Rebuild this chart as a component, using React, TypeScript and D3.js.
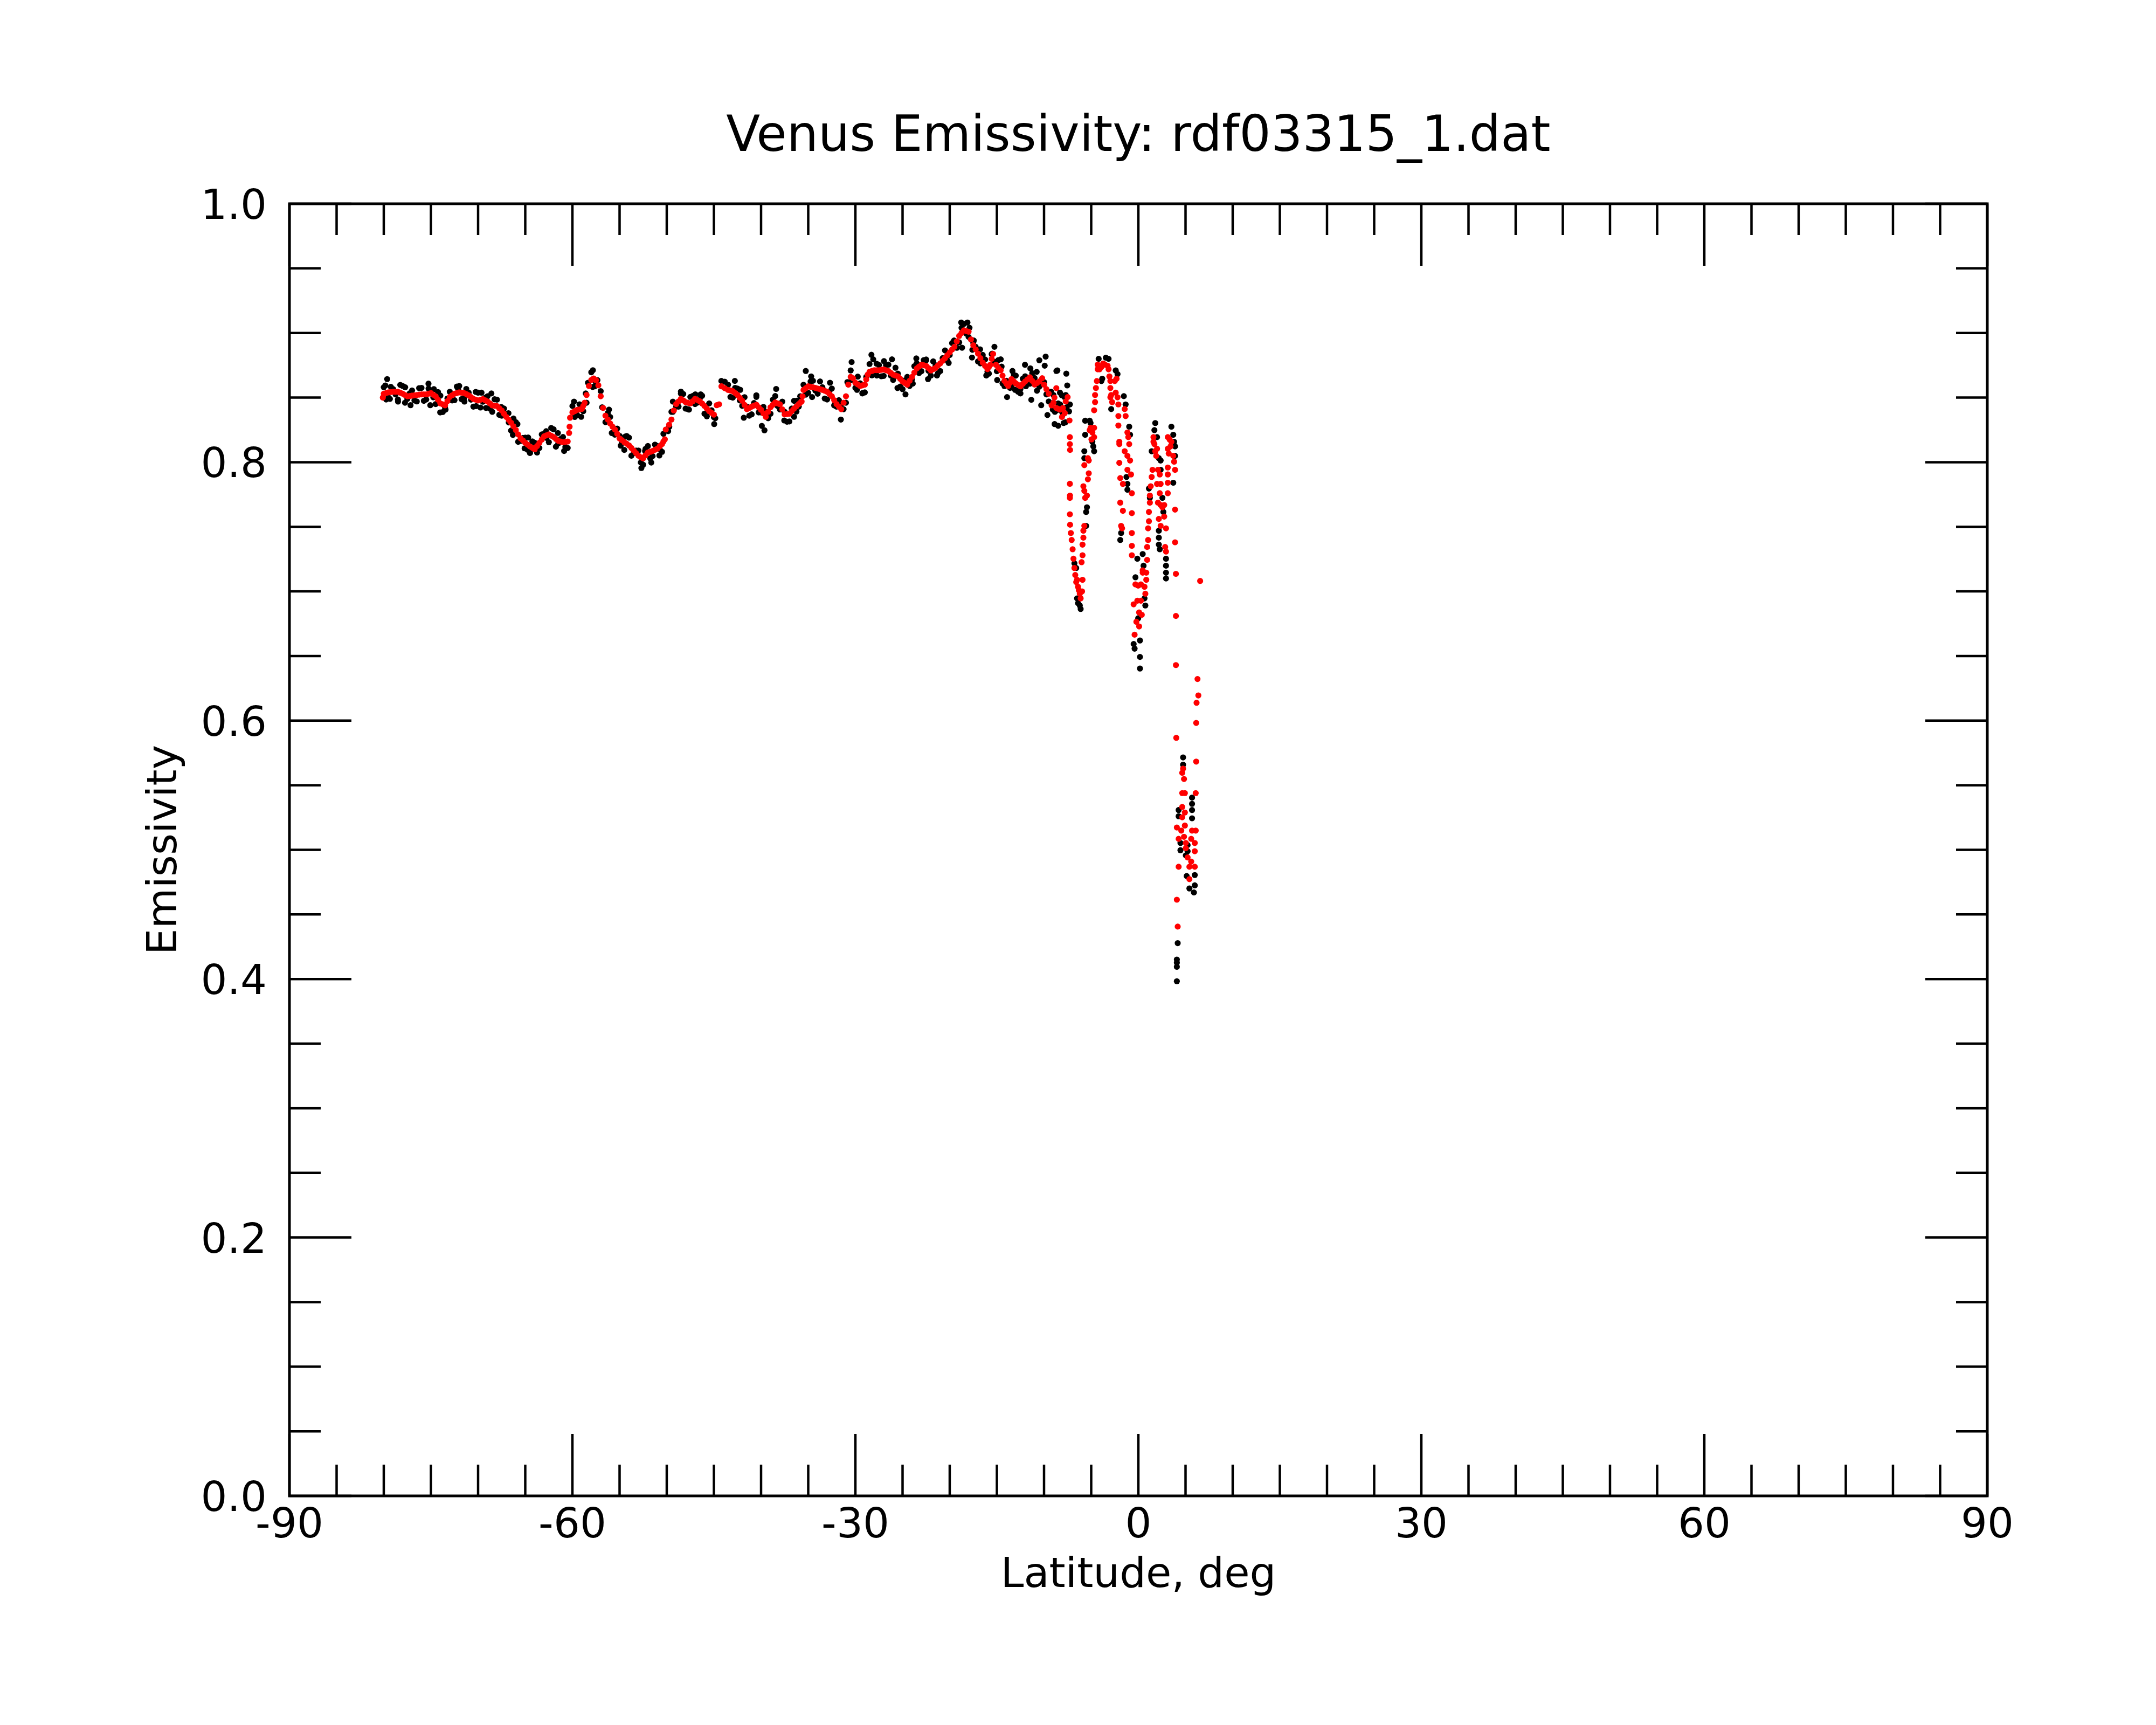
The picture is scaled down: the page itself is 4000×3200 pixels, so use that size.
import React from "react";
import * as d3 from "d3";

const TITLE = "Venus Emissivity: rdf03315_1.dat";
const X_LABEL = "Latitude, deg";
const Y_LABEL = "Emissivity";
const X_MAJOR = [-90, -60, -30, 0, 30, 60, 90];
const X_TICK_LABELS = ["-90", "-60", "-30", "0", "30", "60", "90"];
const Y_MAJOR = [0, 0.2, 0.4, 0.6, 0.8, 1.0];
const Y_TICK_LABELS = ["0.0", "0.2", "0.4", "0.6", "0.8", "1.0"];

// smoothed series (red), latitude vs emissivity
const redTrack: [number, number][] = [
  [-80.1,0.850],[-80.0,0.853],[-79.5,0.854],[-79.0,0.8545],[-78.5,0.8545],[-78.0,0.853],[-77.5,0.851],[-77.0,0.8515],[-76.5,0.852],[-76.0,0.8525],[-75.5,0.8525],[-75.0,0.8535],[-74.5,0.851],[-74.0,0.8455],[-73.5,0.844],[-73.0,0.8505],[-72.5,0.853],[-72.0,0.854],[-71.5,0.8535],[-71.0,0.8518],[-70.5,0.849],[-70.0,0.8478],[-69.5,0.8488],[-69.0,0.847],[-68.5,0.844],[-68.0,0.8434],[-67.5,0.84],[-67.0,0.835],[-66.5,0.8305],[-66.0,0.825],[-65.75,0.8215],[-65.5,0.8185],[-65.0,0.815],[-64.5,0.8121],[-64.0,0.81],[-63.5,0.815],[-63.0,0.82],[-62.5,0.8215],[-62.0,0.8195],[-61.5,0.8165],[-61.0,0.8155],[-60.5,0.816],[-60.35,0.8226],[-60.3,0.8275],[-60.25,0.8344],[-60.0,0.8385],[-59.5,0.8405],[-59.0,0.8412],[-58.7,0.846],[-58.5,0.852],[-58.25,0.859],[-58.0,0.8636],[-57.75,0.8648],[-57.5,0.8635],[-57.25,0.8595],[-57.0,0.851],[-56.75,0.842],[-56.5,0.836],[-56.0,0.83],[-55.5,0.8253],[-55.0,0.8184],[-54.5,0.8155],[-54.0,0.813],[-53.5,0.809],[-53.0,0.805],[-52.5,0.803],[-52.0,0.8075],[-51.5,0.8087],[-51.0,0.8105],[-50.5,0.814],[-50.2,0.8177],[-50.1,0.8253],[-49.75,0.829],[-49.5,0.833],[-49.25,0.84],[-49.0,0.845],[-48.5,0.849],[-48.0,0.8465],[-47.5,0.8455],[-47.0,0.849],[-46.5,0.8472],[-46.0,0.8435],[-45.5,0.8395],[-45.0,0.8368],[-44.7,0.8441],[-44.45,0.8448],[-44.2,0.8587],[-43.5,0.8559],[-43.0,0.855],[-42.5,0.852],[-42.0,0.8476],[-41.5,0.841],[-41.0,0.843],[-40.5,0.8445],[-40.0,0.8405],[-39.5,0.8351],[-39.0,0.8425],[-38.5,0.8462],[-38.0,0.8448],[-37.5,0.837],[-37.0,0.8375],[-36.5,0.8415],[-36.0,0.845],[-35.7,0.847],[-35.6,0.851],[-35.5,0.8559],[-35.0,0.8587],[-34.5,0.858],[-34.0,0.857],[-33.5,0.856],[-33.0,0.8545],[-32.5,0.851],[-32.0,0.845],[-31.5,0.841],[-31.25,0.846],[-31.0,0.851],[-30.75,0.86],[-30.5,0.866],[-30.25,0.865],[-30.0,0.8615],[-29.5,0.859],[-29.0,0.86],[-28.7,0.8677],[-28.5,0.87],[-28.0,0.8712],[-27.5,0.8712],[-27.0,0.8718],[-26.5,0.8705],[-26.0,0.8677],[-25.5,0.8665],[-25.0,0.8625],[-24.5,0.86],[-24.0,0.866],[-23.5,0.8725],[-23.0,0.8754],[-22.5,0.8745],[-22.0,0.871],[-21.5,0.873],[-21.0,0.8765],[-20.5,0.8805],[-20.0,0.885],[-19.5,0.8893],[-19.25,0.8935],[-19.0,0.8977],[-18.5,0.902],[-18.0,0.901],[-17.75,0.895],[-17.5,0.8905],[-17.0,0.884],[-16.5,0.877],[-16.0,0.872],[-15.7,0.8754],[-15.55,0.880],[-15.4,0.8838],[-15.1,0.8754],[-14.6,0.8712],[-14.4,0.867],[-14.2,0.8629],[-13.8,0.859],[-13.45,0.8643],[-13.0,0.861],[-12.5,0.8587],[-12.0,0.8625],[-11.5,0.8657],[-11.0,0.8601],[-10.5,0.8625],[-10.2,0.865],[-10.0,0.86],[-9.5,0.853],[-9.2,0.844],[-9.0,0.846],[-8.9,0.85],[-8.7,0.842],[-8.7,0.8573],[-8.3,0.8407],[-8.1,0.835],[-8.0,0.842],[-7.8,0.838],[-7.7,0.847],[-7.5,0.8504],[-7.3,0.8323]
];

// further red samples read between the ones above
const redTrackFill: [number, number][] = [
  [-79.75,0.8535],[-79.25,0.8543],[-78.75,0.8545],[-78.25,0.8538],[-77.75,0.852],[-77.25,0.8512],[-76.75,0.8518],[-76.25,0.8523],[-75.75,0.8525],[-75.25,0.853],[-74.75,0.8522],[-74.25,0.8483],[-73.75,0.8448],[-73.25,0.8473],[-72.75,0.8518],[-72.25,0.8535],[-71.75,0.8538],[-71.25,0.8527],[-70.75,0.8504],[-70.25,0.8484],[-69.75,0.8483],[-69.25,0.8479],[-68.75,0.8455],[-68.25,0.8437],[-67.75,0.8417],[-67.25,0.8375],[-66.75,0.8328],[-66.25,0.8278],[-65.25,0.8168],[-64.75,0.8136],[-64.25,0.8111],[-63.75,0.8125],[-63.25,0.8175],[-62.75,0.8208],[-62.25,0.8205],[-61.75,0.818],[-61.25,0.816],[-60.75,0.8158],[-59.75,0.8395],[-59.25,0.8408],[-58.85,0.8436],
  [-56.25,0.833],[-55.75,0.8275],[-55.25,0.822],[-54.75,0.817],[-54.25,0.8143],[-53.75,0.811],[-53.25,0.807],[-52.75,0.8038],[-52.25,0.8053],[-51.75,0.808],[-51.25,0.8096],[-50.75,0.8122],[-50.35,0.816],[-48.75,0.847],[-48.25,0.8478],[-47.75,0.846],[-47.25,0.8472],[-46.75,0.8481],[-46.25,0.8454],[-45.75,0.8415],[-45.25,0.8382],
  [-43.85,0.8573],[-43.25,0.8555],[-42.75,0.8535],[-42.25,0.8498],[-41.75,0.8443],[-41.25,0.842],[-40.75,0.8438],[-40.25,0.8425],[-39.75,0.8378],[-39.25,0.839],[-38.75,0.8444],[-38.25,0.8455],[-37.75,0.8409],[-37.25,0.8373],[-36.75,0.8395],[-36.25,0.8432],[-35.85,0.846],[-35.25,0.8573],[-34.75,0.8584],[-34.25,0.8575],[-33.75,0.8565],[-33.25,0.8553],[-32.75,0.8528],[-32.25,0.848],[-31.75,0.843],
  [-29.75,0.8602],[-29.25,0.8595],[-28.85,0.864],[-28.25,0.8706],[-27.75,0.8712],[-27.25,0.8715],[-26.75,0.8712],[-26.25,0.8691],[-25.75,0.8671],[-25.25,0.8645],[-24.75,0.8613],[-24.25,0.863],[-23.75,0.8693],[-23.25,0.874],[-22.75,0.875],[-22.25,0.8728],[-21.75,0.872],[-21.25,0.8748],[-20.75,0.8785],[-20.25,0.8828],[-19.75,0.8872],[-18.75,0.900],[-18.25,0.9015],[-17.25,0.8873],[-16.75,0.8805],[-16.25,0.8745],[-15.85,0.8737],[-14.85,0.873],[-14.0,0.861],[-13.6,0.8615],[-13.2,0.8625],[-12.75,0.8598],[-12.25,0.8606],[-11.75,0.8641],[-11.25,0.8629],[-10.75,0.8613],[-9.75,0.8565],[-8.5,0.8413]
];

const redDips: [number, number][] = [
  [-7.26,0.8194],[-7.26,0.814],[-7.24,0.8095],[-7.26,0.7833],[-7.25,0.7742],[-7.26,0.7724],[-7.26,0.7597],[-7.24,0.7516],
  [-7.16,0.7452],[-7.07,0.7398],[-6.97,0.7326],[-6.88,0.7253],[-6.78,0.7181],[-6.69,0.7127],[-6.59,0.7072],[-6.50,0.709],[-6.40,0.7036],[-6.31,0.7009],[-6.21,0.6982],[-6.12,0.6946],
  [-5.97,0.7000],[-5.92,0.7090],[-6.02,0.7226],[-5.92,0.728],[-5.92,0.7362],[-5.83,0.7416],[-5.83,0.747],[-5.73,0.7507],[-5.64,0.7724],[-5.45,0.7742],[-5.73,0.7778],[-5.83,0.7814],[-5.35,0.7868],[-5.26,0.7914],[-5.73,0.7977],[-5.26,0.8013],[-5.35,0.8031],
  [-5.16,0.8248],[-4.88,0.823],[-4.97,0.8176],[-4.69,0.8194],[-5.07,0.8266],[-4.69,0.8266],
  [-4.69,0.8402],[-4.59,0.8465],[-4.59,0.852],[-4.50,0.8574],[-4.40,0.8628],[-4.31,0.8719],
  [-4.31,0.8755],[-4.11,0.8719],[-3.92,0.8737],[-3.73,0.8764],[-3.54,0.8755],[-3.26,0.8746],[-3.16,0.8719],[-3.07,0.8664],[-2.97,0.8628],
  [-2.97,0.8574],[-2.88,0.852],[-2.78,0.8465],[-2.50,0.8628],[-2.31,0.8646],[-2.40,0.8538],[-2.21,0.8502],[-2.12,0.8447],[-2.97,0.8502],
  [-2.12,0.8357],[-2.12,0.8284],[-2.02,0.8158],[-2.02,0.814],[-2.02,0.7995],[-1.92,0.7877],[-1.64,0.7832],[-1.92,0.7687],[-1.64,0.7624],[-1.83,0.7507],[-1.73,0.7488],
  [-1.45,0.8411],[-1.35,0.8357],[-1.16,0.823],[-1.07,0.8194],[-0.97,0.814],[-1.45,0.8085],[-1.16,0.8049],[-0.88,0.8013],[-1.16,0.7941],[-0.78,0.7905],[-0.69,0.776],[-0.69,0.7606],[-0.69,0.7452],[-0.69,0.7353],[-0.69,0.728],
  [-0.31,0.7054],[-0.02,0.7045],[0.27,0.7054],[0.46,0.7145],[0.84,0.7145],[0.84,0.709],[0.65,0.7036],[0.74,0.6982],[-0.11,0.6928],[0.27,0.6928],[-0.50,0.69],[0.08,0.6837],[-0.21,0.6765],[0.08,0.6729],[-0.40,0.6665],[0.36,0.6819],[0.93,0.7244],[0.46,0.7163],
  [0.93,0.7344],[1.03,0.7398],[1.03,0.7488],[1.12,0.7543],[1.12,0.7615],[1.22,0.7687],[1.22,0.7742],[1.31,0.7814],[1.41,0.7886],[1.50,0.7941],
  [1.60,0.8194],[1.70,0.814],[1.79,0.8085],[1.89,0.8049],[1.60,0.8158],[1.98,0.8104],
  [2.08,0.7941],[2.27,0.7905],[2.36,0.7832],[1.98,0.7832],[2.27,0.776],[2.08,0.7687],[2.36,0.7669],[2.55,0.7651],[2.74,0.7669],[2.17,0.7561],[2.74,0.7579],[2.36,0.7507],[2.93,0.7488],[2.84,0.7344],[2.93,0.7308],
  [3.12,0.8194],[3.31,0.8176],[3.50,0.8158],[3.41,0.8122],[3.12,0.8104],[3.22,0.8067],[3.70,0.8049],[3.79,0.8004],[3.89,0.7941],[3.12,0.7959],[3.12,0.7905],[3.12,0.7841],[3.12,0.776],
  [3.89,0.7633],[3.89,0.738],[3.98,0.7136],[3.98,0.681],[3.98,0.643],
  [6.55,0.7081],[6.27,0.6322],[6.36,0.6195],[6.17,0.6138],[6.13,0.5982],[6.13,0.5683],
  [4.02,0.5867],[4.74,0.5628],[4.65,0.5596],[4.84,0.5548],[4.65,0.5439],[4.93,0.5439],[6.08,0.5439],[4.65,0.5332],[4.93,0.5289],[4.65,0.5252],[4.08,0.5173],[4.93,0.5188],[4.55,0.5149],[5.69,0.5149],[6.08,0.5149],[4.27,0.5085],[4.84,0.5101],[5.03,0.5053],[5.60,0.5085],[5.98,0.5053],[5.03,0.5013],[5.98,0.4989],[4.27,0.4869],[5.22,0.4941],[5.60,0.4909],[5.98,0.4869],[5.41,0.4869],[5.41,0.4773],[4.08,0.4614],[4.17,0.4406]
];

// raw series (black)
const blackBand: [number, number][] = [
  [-79.75,0.8485],[-79.25,0.8583],[-78.75,0.8525],[-78.25,0.8598],[-77.75,0.846],[-77.25,0.8533],[-76.75,0.8478],[-76.25,0.8573],[-75.75,0.8475],[-75.25,0.857],[-74.75,0.8502],[-74.25,0.8543],[-73.75,0.8388],[-73.25,0.8493],[-72.75,0.8478],[-72.25,0.8585],[-71.75,0.8488],[-71.25,0.8567],[-70.75,0.8484],[-70.25,0.8544],[-69.75,0.8423],[-69.25,0.8499],[-68.75,0.8415],[-68.25,0.8487],[-67.75,0.8367],[-67.25,0.8415],[-66.75,0.8308],[-66.25,0.8338],[-65.75,0.8158],[-65.25,0.8188],[-64.75,0.8096],[-64.25,0.8161],[-63.75,0.8075],[-63.25,0.8215],[-62.75,0.8188],[-62.25,0.8265],[-61.75,0.812],[-61.25,0.818],[-60.75,0.8118],
  [-59.75,0.835],[-59.25,0.8448],[-58.85,0.8395],[-58.35,0.8615],[-57.85,0.8582],[-57.35,0.8635],[-56.85,0.8425],[-56.25,0.838],[-55.75,0.8225],[-55.25,0.826],[-54.75,0.815],[-54.25,0.8203],[-53.75,0.805],[-53.25,0.809],[-52.75,0.7998],[-52.25,0.8103],[-51.75,0.803],[-51.25,0.8136],[-50.75,0.8102],[-50.35,0.822],[-49.85,0.824],[-49.35,0.839],[-48.75,0.843],[-48.25,0.8528],[-47.75,0.841],[-47.25,0.8512],[-46.75,0.8461],[-46.25,0.8514],[-45.75,0.8355],[-45.25,0.8402],[-44.85,0.834],
  [-43.85,0.8623],[-43.25,0.8505],[-42.75,0.8575],[-42.25,0.8478],[-41.75,0.8503],[-41.25,0.836],[-40.75,0.8458],[-40.25,0.8385],[-39.75,0.8428],[-39.25,0.834],[-38.75,0.8484],[-38.25,0.8435],[-37.75,0.8469],[-37.25,0.8313],[-36.75,0.8415],[-36.25,0.8392],[-35.85,0.851],[-35.25,0.8523],[-34.75,0.8624],[-34.25,0.8555],[-33.75,0.8625],[-33.25,0.8493],[-32.75,0.8548],[-32.25,0.844],[-31.75,0.848],[-31.25,0.841],[-30.85,0.862],[-30.35,0.8635],[-29.75,0.8662],[-29.25,0.8535],[-28.85,0.866],[-28.25,0.8672],[-27.75,0.8762],[-27.25,0.8665],[-26.75,0.8752],[-26.25,0.8671],[-25.75,0.8731],[-25.25,0.8585],[-24.75,0.8633],[-24.25,0.859],[-23.75,0.8743],[-23.25,0.869],[-22.75,0.879],[-22.25,0.8708],[-21.75,0.878],[-21.25,0.8688],[-20.75,0.8805],[-20.25,0.8788],[-19.75,0.8922],[-19.25,0.8885],[-18.75,0.904],[-18.25,0.8995],[-17.9,0.904],[-17.6,0.887],[-17.25,0.8893],[-16.75,0.8765],[-16.25,0.8795],[-15.85,0.8685],[-15.55,0.8836],[-15.25,0.8776],[-14.85,0.879],[-14.4,0.861],[-14.0,0.863],[-13.6,0.8575],[-13.2,0.8675],[-12.75,0.8545],[-12.25,0.8646],[-11.75,0.8621],[-11.25,0.8689],[-10.75,0.8553],[-10.25,0.8632],[-9.75,0.8525],[-9.25,0.8545],[-8.85,0.839],[-8.5,0.8455],[-8.15,0.8395],[-7.85,0.8505],[-7.6,0.8425]
];

const blackBand2: [number, number][] = [
  [-80.0,0.858],[-79.5,0.850],[-79.0,0.8565],[-78.5,0.8485],[-78.0,0.859],[-77.5,0.849],[-77.0,0.8555],[-76.5,0.847],[-76.0,0.8575],[-75.5,0.8485],[-75.0,0.8555],[-74.5,0.845],[-74.0,0.8515],[-73.5,0.842],[-73.0,0.8545],[-72.5,0.848],[-72.0,0.859],[-71.5,0.8495],[-71.0,0.8538],[-70.5,0.843],[-70.0,0.8538],[-69.5,0.8468],[-69.0,0.851],[-68.5,0.839],[-68.0,0.8484],[-67.5,0.836],[-67.0,0.837],[-66.5,0.8245],[-66.0,0.831],[-65.5,0.8165],[-65.0,0.819],[-64.5,0.8071],[-64.0,0.815],[-63.5,0.811],[-63.0,0.822],[-62.5,0.8155],[-62.0,0.8255],[-61.5,0.8145],[-61.0,0.8195],[-60.5,0.811],[-60.0,0.8435],[-59.5,0.8365],[-59.0,0.8432],[-58.5,0.846],[-58.0,0.8696],[-57.5,0.8615],[-57.0,0.855],[-56.5,0.831],[-56.0,0.835],[-55.5,0.8213],[-55.0,0.8204],[-54.5,0.8095],[-54.0,0.819],[-53.5,0.807],[-53.0,0.809],[-52.5,0.798],[-52.0,0.8125],[-51.5,0.8047],[-51.0,0.8125],[-50.5,0.808],
  [-49.5,0.839],[-49.0,0.843],[-48.5,0.853],[-48.0,0.8415],[-47.5,0.8505],[-47.0,0.845],[-46.5,0.8492],[-46.0,0.8375],[-45.5,0.8455],[-45.0,0.8348],[-43.5,0.8599],[-43.0,0.850],[-42.5,0.857],[-42.0,0.8436],[-41.5,0.843],[-41.0,0.837],[-40.5,0.8505],[-40.0,0.8385],[-39.5,0.8391],[-39.0,0.8375],[-38.5,0.8512],[-38.0,0.8408],[-37.5,0.839],[-37.0,0.8315],[-36.5,0.8475],[-36.0,0.843],[-35.5,0.8599],[-35.0,0.8537],[-34.5,0.863],[-34.0,0.853],[-33.5,0.858],[-33.0,0.8485],[-32.5,0.857],[-32.0,0.843],[-31.5,0.845],[-31.0,0.846],[-30.5,0.871],[-30.0,0.8575],[-29.5,0.861],[-29.0,0.854],
  [-28.5,0.876],[-28.0,0.8692],[-27.5,0.8752],[-27.0,0.8668],[-26.5,0.8755],[-26.0,0.8637],[-25.5,0.8685],[-25.0,0.8565],[-24.5,0.866],[-24.0,0.864],[-23.5,0.8765],[-23.0,0.8704],[-22.5,0.8795],[-22.0,0.867],[-21.5,0.875],[-21.0,0.8705],[-20.5,0.8865],[-20.0,0.883],[-19.5,0.8933],[-19.0,0.8927],[-18.5,0.907],[-18.0,0.897],[-17.5,0.8925],[-17.0,0.878],[-16.5,0.883],[-16.0,0.870],[-15.5,0.884],[-15.0,0.8704],[-14.5,0.874],[-14.2,0.8589],[-13.8,0.861],[-13.45,0.8583],[-13.0,0.867],[-12.5,0.8567],[-12.0,0.8665],[-11.5,0.8607],[-11.0,0.8651],[-10.5,0.8585],[-10.0,0.862],[-9.5,0.847],[-9.0,0.852],[-8.7,0.840],[-8.3,0.8447],[-8.0,0.837],[-7.7,0.852]
];

const blackScatter: [number, number][] = [
  [-79.64,0.8643],[-79.83,0.8594],[-79.35,0.849],[-78.49,0.8469],[-77.73,0.858],[-77.16,0.8441],[-75.26,0.8608],[-74.69,0.8566],[-75.07,0.8441],[-74.02,0.8385],[-73.45,0.8407],[-72.12,0.8566],[-71.45,0.8469],[-70.21,0.8434],[-69.64,0.8538],[-68.59,0.8532],[-69.16,0.842],[-67.54,0.8427],[-66.78,0.8379],[-66.31,0.8211],[-65.83,0.8295],[-64.69,0.8191],[-64.5,0.8073],[-65.07,0.8107],[-62.78,0.824],[-61.54,0.8226],[-60.88,0.8087],[-59.83,0.8469],[-59.07,0.8351],[-58.59,0.8532],[-57.83,0.8712],[-57.64,0.8587],[-56.12,0.8407],[-55.83,0.8226],[-54.4,0.8198],[-54.88,0.8128],[-52.69,0.7955],[-52.3,0.8087],[-51.64,0.7997],
  [-50.78,0.8052],[-49.73,0.8274],[-49.35,0.8469],[-48.5,0.8546],[-47.64,0.8407],[-46.97,0.8525],[-46.4,0.8525],[-44.97,0.8295],[-44.21,0.8629],[-42.78,0.8629],[-42.21,0.856],[-41.83,0.8344],[-40.5,0.8518],[-39.92,0.8281],[-39.64,0.8247],[-38.4,0.8567],[-37.54,0.8323],[-36.5,0.8351],[-36.21,0.8476],[-35.26,0.8706],[-34.69,0.8664],[-34.59,0.8504],[-32.69,0.8615],[-31.54,0.833],[-30.4,0.8775],[-29.83,0.856],[-29.26,0.8532],[-28.3,0.8831],[-28.11,0.8796],[-27.73,0.8671],[-26.97,0.8782],[-26.12,0.8796],[-25.54,0.8574],[-24.69,0.8525],[-23.92,0.8608],[-23.54,0.8803],[-22.5,0.8789],[-22.3,0.8643],
  [-21.35,0.8671],[-20.11,0.8768],[-19.54,0.8942],[-18.78,0.9081],[-18.12,0.9081],[-18.69,0.8886],[-17.45,0.8942],[-17.64,0.881],[-16.78,0.8873],[-16.12,0.8671],[-15.26,0.8893],[-14.59,0.8796],[-14.97,0.8636],[-13.92,0.8504],[-13.35,0.8706],[-12.5,0.8532],[-12.02,0.8754],[-11.45,0.8726],[-11.35,0.8483],[-10.5,0.8789],[-9.83,0.8817],[-9.93,0.8747],[-10.3,0.8441],[-9.64,0.8365],[-8.69,0.8706],[-7.64,0.8685],[-7.54,0.8594],[-8.88,0.8295],[-8.5,0.8282],[-7.73,0.8309],[-7.35,0.8393],[-9.07,0.8407],[-8.12,0.8518],[-10.78,0.8699],[-11.92,0.8588],[-13.07,0.856],
  [-8.59,0.871],[-8.31,0.8538],[-7.92,0.8303],[-7.26,0.8447],
  [-6.78,0.7217],[-6.59,0.7181],[-6.4,0.6909],[-6.5,0.6946],[-6.12,0.6864],[-6.21,0.6891],
  [-5.54,0.7615],[-5.45,0.7651],[-5.54,0.7507],[-5.73,0.8031],[-5.73,0.8085],[-5.64,0.8212],[-5.64,0.8321],[-5.16,0.8321],[-5.07,0.8303],[-4.78,0.8122],[-4.69,0.8085],[-4.88,0.8158],
  [-4.21,0.88],[-3.45,0.8809],[-3.16,0.88],[-3.83,0.8646],[-3.92,0.8628],[-2.4,0.871],[-2.21,0.8682],[-2.88,0.8411],[-1.54,0.8511],[-1.35,0.8447],[-0.97,0.8275],[-0.88,0.8212],[-1.26,0.7886],[-1.16,0.7832],[-1.16,0.7787],[-1.83,0.7452],[-1.92,0.7398],
  [-0.11,0.7253],[0.46,0.7289],[0.55,0.7199],[-0.31,0.7109],[0.65,0.6946],[0.74,0.6891],[-0.02,0.6792],[-0.5,0.6593],[-0.4,0.6557],[0.17,0.662],[0.17,0.6493],[0.17,0.6403],
  [1.12,0.7796],[1.22,0.7724],[1.79,0.8303],[1.7,0.8248],[1.98,0.8194],[1.41,0.8085],[2.17,0.8031],[2.36,0.8013],[2.36,0.7941],[2.55,0.7724],[2.65,0.7615],[2.17,0.747],[2.17,0.7416],[2.17,0.7362],[2.27,0.7326],[2.93,0.7253],[2.93,0.7199],[2.93,0.7145],[2.93,0.71],
  [3.5,0.8275],[3.7,0.8212],[3.79,0.8158],[3.89,0.8122],[3.89,0.8049],[3.7,0.7841],
  [4.74,0.5715],[4.74,0.5659],[5.69,0.5404],[5.69,0.5356],[5.69,0.5308],[5.69,0.5244],[4.27,0.5308],[4.27,0.526],[4.46,0.4997],[5.22,0.4989],[5.12,0.4797],[5.98,0.4805],[5.41,0.4701],[5.89,0.467],[5.98,0.4725],[5.03,0.4957],[5.22,0.5037],[4.46,0.5053],
  [4.17,0.4278],[4.08,0.4151],[4.08,0.4127],[4.08,0.4095],[4.08,0.3983]
];

const W = 4000;
const H = 3200;
const PLOT = { left: 537, right: 3687, top: 378, bottom: 2775 };
const FONT = "DejaVu Sans";

export default function App() {
  const x = d3.scaleLinear().domain([-90, 90]).range([PLOT.left, PLOT.right]);
  const y = d3.scaleLinear().domain([0, 1]).range([PLOT.bottom, PLOT.top]);
  const xMinor = x.ticks(36).filter((t) => !X_MAJOR.includes(t));
  const yMinor = y.ticks(20).filter((t) => !Y_MAJOR.some((m) => Math.abs(m - t) < 1e-9));
  const MAJ = 115;
  const MIN = 58;
  const tickW = 4.5;
  const black = [...blackBand, ...blackBand2, ...blackScatter];
  const red = [...redTrack, ...redTrackFill, ...redDips];
  const cx = (PLOT.left + PLOT.right) / 2;
  const cy = (PLOT.top + PLOT.bottom) / 2;
  const R = 5.6;

  return (
    <svg width={W} height={H} style={{ position: "absolute", left: 0, top: 0, background: "#fff" }}>
      <rect x={0} y={0} width={W} height={H} fill="#fff" />
      <g>
        {black.map((d, i) => (
          <circle key={"b" + i} cx={x(d[0])} cy={y(d[1])} r={R} fill="#000" />
        ))}
        {red.map((d, i) => (
          <circle key={"r" + i} cx={x(d[0])} cy={y(d[1])} r={R} fill="#ff0000" />
        ))}
      </g>
      <g stroke="#000" strokeWidth={tickW}>
        {X_MAJOR.map((t) => (
          <g key={"xm" + t}>
            <line x1={x(t)} x2={x(t)} y1={PLOT.bottom} y2={PLOT.bottom - MAJ} />
            <line x1={x(t)} x2={x(t)} y1={PLOT.top} y2={PLOT.top + MAJ} />
          </g>
        ))}
        {xMinor.map((t) => (
          <g key={"xn" + t}>
            <line x1={x(t)} x2={x(t)} y1={PLOT.bottom} y2={PLOT.bottom - MIN} />
            <line x1={x(t)} x2={x(t)} y1={PLOT.top} y2={PLOT.top + MIN} />
          </g>
        ))}
        {Y_MAJOR.map((t) => (
          <g key={"ym" + t}>
            <line x1={PLOT.left} x2={PLOT.left + MAJ} y1={y(t)} y2={y(t)} />
            <line x1={PLOT.right} x2={PLOT.right - MAJ} y1={y(t)} y2={y(t)} />
          </g>
        ))}
        {yMinor.map((t) => (
          <g key={"yn" + t}>
            <line x1={PLOT.left} x2={PLOT.left + MIN} y1={y(t)} y2={y(t)} />
            <line x1={PLOT.right} x2={PLOT.right - MIN} y1={y(t)} y2={y(t)} />
          </g>
        ))}
      </g>
      <rect
        x={PLOT.left}
        y={PLOT.top}
        width={PLOT.right - PLOT.left}
        height={PLOT.bottom - PLOT.top}
        fill="none"
        stroke="#000"
        strokeWidth={5}
      />
      <g fontFamily={FONT} fontSize={77} fill="#000">
        {X_MAJOR.map((t, i) => (
          <text key={"xl" + t} x={x(t)} y={2852} textAnchor="middle">
            {X_TICK_LABELS[i]}
          </text>
        ))}
        {Y_MAJOR.map((t, i) => (
          <text key={"yl" + t} x={495} y={y(t) + 28} textAnchor="end">
            {Y_TICK_LABELS[i]}
          </text>
        ))}
        <text x={cx} y={2944} textAnchor="middle">
          {X_LABEL}
        </text>
        <text transform={`translate(327, ${cy}) rotate(-90)`} textAnchor="middle">
          {Y_LABEL}
        </text>
      </g>
      <text x={cx} y={280} textAnchor="middle" fontFamily={FONT} fontSize={92} fill="#000">
        {TITLE}
      </text>
    </svg>
  );
}
